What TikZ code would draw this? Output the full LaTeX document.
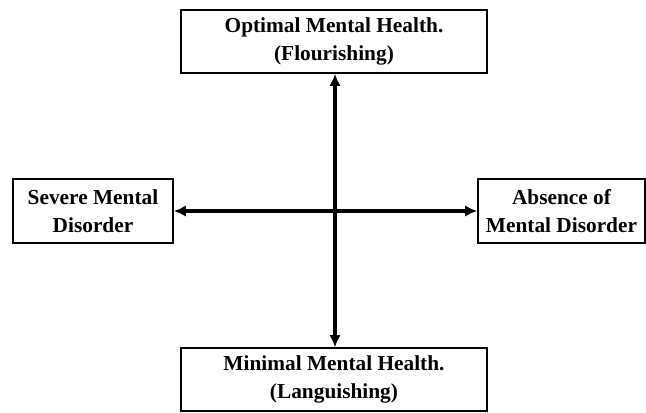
\documentclass[tikz,border=0pt]{standalone}
\usepackage{fontspec}
\setmainfont{Liberation Serif}
\usetikzlibrary{arrows, arrows.meta}

\tikzset{
  statebox/.style={draw=black, line width=1.2pt, align=center, inner sep=0pt,
    font=\fontsize{16}{21}\selectfont\bfseries},
  axisline/.style={line width=2.6pt, {Latex[length=9pt,width=8.5pt]}-{Latex[length=9pt,width=8.5pt]}}
}

\begin{document}
\begin{tikzpicture}[x=0.75pt, y=-0.75pt]
\useasboundingbox (0,0) rectangle (646,412);
%\draw[step=50,gray,very thin] (0,0) grid (646,412); %background grid
\node[statebox, minimum width=306*0.75pt, minimum height=63*0.75pt] (optimal) at (334,41.5){Optimal Mental Health.\\(Flourishing)}; %top
\node[statebox, minimum width=306*0.75pt, minimum height=63*0.75pt] (minimal) at (334,379.5){Minimal Mental Health.\\(Languishing)}; %bottom
\node[statebox, minimum width=160*0.75pt, minimum height=64*0.75pt] (severe) at (93,211){Severe Mental\\Disorder}; %left
\node[statebox, minimum width=167*0.75pt, minimum height=64*0.75pt] (absence) at (561.5,211){Absence of\\Mental Disorder}; %right
\draw[axisline](optimal.south -| 335,0)--(minimal.north -| 335,0);
\draw[axisline](severe.east)--(absence.west);
\end{tikzpicture}
\end{document}
